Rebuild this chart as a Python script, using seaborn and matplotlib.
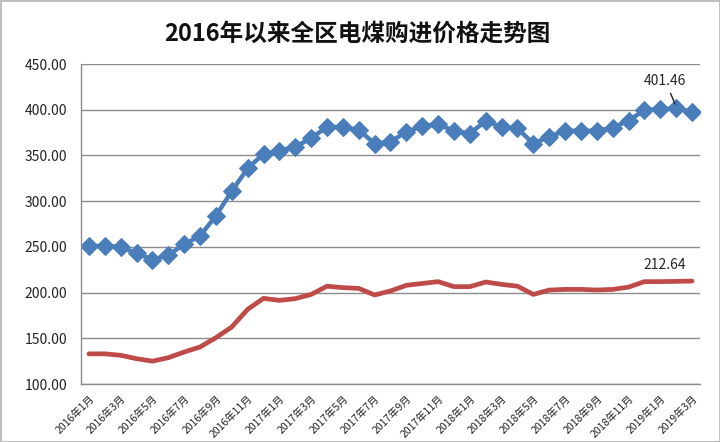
import numpy as np
import pandas as pd
import matplotlib
matplotlib.use("Agg")
import matplotlib.pyplot as plt
import seaborn as sns

# monthly data, 2016-01 .. 2019-03
months = [f"{y}年{m}月" for y in range(2016, 2020) for m in range(1, 13)][:39]

standard_coal = [251, 251, 250, 243, 236, 241, 253, 262, 284, 311,
                 336, 351.6, 355, 359.6, 368.8, 381.5, 381, 378, 363, 365,
                 376, 382, 384, 377, 374, 388, 381, 379.6, 363, 370.5,
                 377, 377, 377, 380.5, 388, 399.8, 400.5, 401.46, 397.8]

natural_coal = [133, 133, 131.4, 127.7, 125, 128.8, 135, 140.5, 150.7, 162.4,
                181.7, 193.7, 191.5, 193.4, 198, 207, 205.4, 204.6, 197.4, 201.8,
                208, 210, 212, 206.5, 206.5, 211.6, 209, 207, 198, 202.8,
                203.5, 203.5, 202.8, 203.5, 206, 212, 212, 212.3, 212.64]

title = "2016年以来全区电煤购进价格走势图"
y_ticks = [100, 150, 200, 250, 300, 350, 400, 450]

df = pd.DataFrame({"idx": np.arange(len(months)), "month": months,
                   "blue": standard_coal, "red": natural_coal})

sns.set_style("white")
plt.rcParams["font.family"] = ["Noto Sans CJK SC", "DejaVu Sans"]

fig = plt.figure(figsize=(7.2, 4.42), dpi=100)
fig.patch.set_edgecolor("#bfbfbf")
fig.patch.set_linewidth(2)
ax = fig.add_axes([0.1125, 0.1312, 0.8597, 0.7238])

sns.lineplot(data=df, x="idx", y="red", ax=ax, color="#be4b48", linewidth=3.4)
sns.lineplot(data=df, x="idx", y="blue", ax=ax, color="#4a7ebb", linewidth=3.2,
             marker="D", markersize=9, markeredgecolor="#4a7ebb")

ax.set_xlim(-0.5, len(months) - 0.5)
ax.set_ylim(100, 450)
ax.set_yticks(y_ticks)
ax.set_yticklabels([f"{v:.2f}" for v in y_ticks], fontsize=10, color="#222222")
ax.yaxis.grid(True, color="#8c8c8c", linewidth=1)
ax.set_axisbelow(True)

ax.set_xticks(df["idx"][::2])
ax.set_xticklabels(df["month"][::2], rotation=45, ha="right",
                   rotation_mode="anchor", fontsize=7.5, color="#222222")
ax.tick_params(axis="x", length=0, pad=7)
ax.tick_params(axis="y", length=0, pad=10)
ax.set_xlabel("")
ax.set_ylabel("")

for side in ["top", "right"]:
    ax.spines[side].set_visible(False)
for side in ["left", "bottom"]:
    ax.spines[side].set_color("#8c8c8c")
    ax.spines[side].set_linewidth(1)

fig.suptitle(title, x=0.497, y=0.95, fontsize=17, fontweight="bold",
             color="#111111")

ax.annotate(f"{standard_coal[37]:.2f}", xy=(37, standard_coal[37] + 2),
            xytext=(36.3, 432), ha="center", va="center", fontsize=10,
            arrowprops=dict(arrowstyle="-", color="#222222", lw=1))
ax.text(36.3, 230, f"{natural_coal[-1]:.2f}", ha="center", va="center",
        fontsize=10)

fig.savefig("out.png", dpi=100, edgecolor=fig.get_edgecolor())
